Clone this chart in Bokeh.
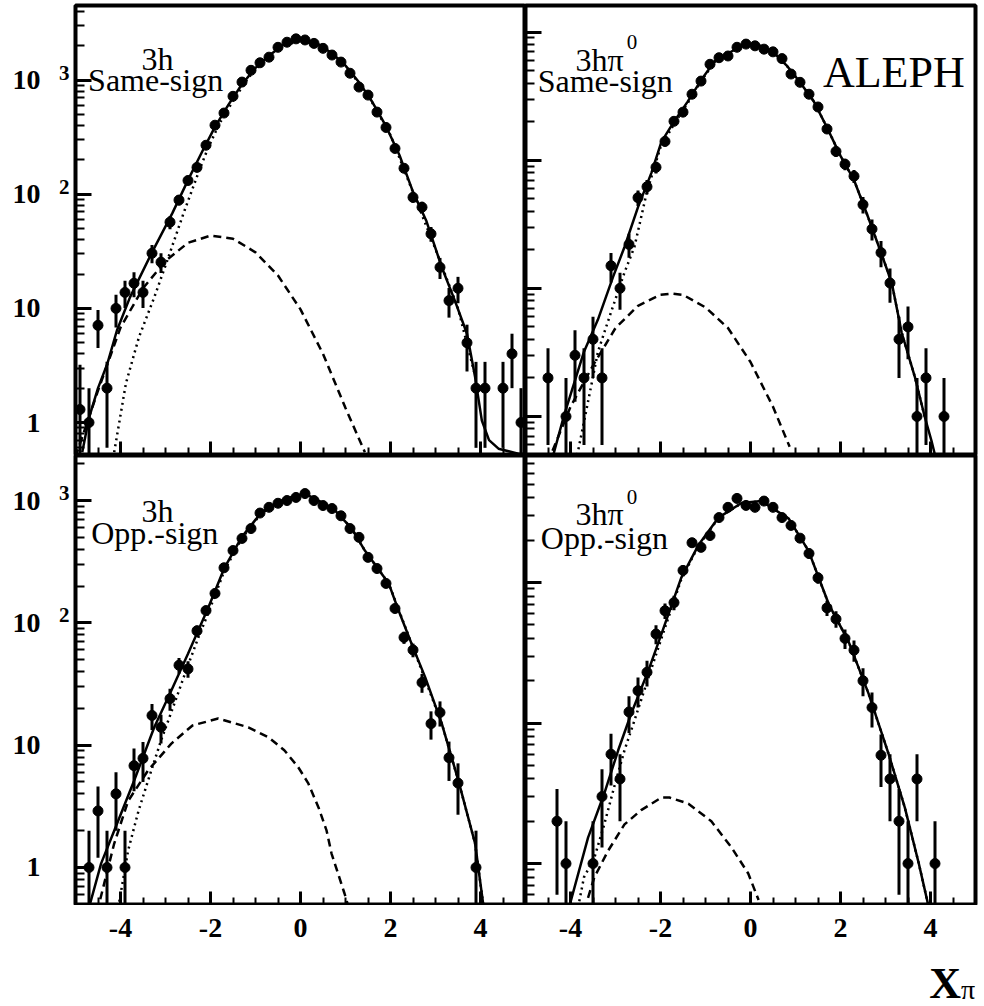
from bokeh.plotting import figure
from bokeh.layouts import column, row
from bokeh.models import FixedTicker, Label, Range1d, LogAxis
from bokeh.embed import file_html
from bokeh.resources import INLINE

# ---------------- data ----------------
bin_centers = [-4.9, -4.7, -4.5, -4.3, -4.1, -3.9, -3.7, -3.5, -3.3, -3.1,
               -2.9, -2.7, -2.5, -2.3, -2.1, -1.9, -1.7, -1.5, -1.3, -1.1,
               -0.9, -0.7, -0.5, -0.3, -0.1, 0.1, 0.3, 0.5, 0.7, 0.9,
               1.1, 1.3, 1.5, 1.7, 1.9, 2.1, 2.3, 2.5, 2.7, 2.9,
               3.1, 3.3, 3.5, 3.7, 3.9, 4.1, 4.3, 4.5, 4.7, 4.9]

# 3h, same-sign
ss3h_counts = [1.3, 1.0, 7.1, 2.0, 10.0, 13.8, 16.6, 13.8, 30.4, 25.4,
               57, 89, 132, 172, 269, 403, 515, 722, 962, 1220,
               1420, 1590, 1940, 2150, 2300, 2250, 2100, 1900, 1660, 1440,
               1150, 870, 740, 525, 385, 252, 169, 94, 77, 45,
               22.9, 11.7, 15, 5.0, 2.0, 2.0, 0, 2.0, 4.0, 1.0]
ss3h_errors = [1.9, 1.0, 2.6, 1.4, 3.2, 3.7, 4.1, 3.7, 5.5, 5.0,
               7.5, 9.4, 11, 13, 16, 20, 23, 27, 31, 35,
               38, 40, 44, 46, 48, 47, 46, 44, 41, 38,
               34, 30, 27, 23, 20, 16, 13, 9.7, 8.8, 6.7,
               4.8, 3.4, 3.9, 2.2, 1.4, 1.4, 0, 1.4, 2.0, 1.0]
ss3h_total_x = [-4.85, -4.7, -4.5, -4.29, -4.08, -3.79, -3.3, -2.85, -2.5, -2.17, -1.9, -1.6, -1.3,
                -1.0, -0.7, -0.4, -0.1, 0.1, 0.4, 0.7, 1.0, 1.3, 1.6, 1.9, 2.2, 2.5, 2.8, 3.14,
                3.43, 3.7, 3.88, 4.03, 4.19, 4.4, 4.86, 5.0]
ss3h_total_y = [0.55, 1.1, 2.0, 3.3, 6.4, 12.5, 31, 68, 133, 243, 390, 610, 920,
                1280, 1640, 2020, 2260, 2270, 2060, 1720, 1340, 960, 640, 395, 220, 105, 58, 22.9,
                11.7, 6.0, 2.5, 1.04, 0.7, 0.59, 0.53, 0.53]
ss3h_bkg_x = [-5.0, -4.5, -4.0, -3.5, -3.0, -2.5, -2.0, -1.5, -1.0, -0.5, 0.0, 0.5, 1.0, 1.43]
ss3h_bkg_y = [0.5, 1.9, 6.8, 15, 26, 37.6, 43.4, 40.8, 31, 19.4, 9.8, 4.0, 1.34, 0.55]
ss3h_sig_x = [-4.14, -3.88, -3.59, -3.25, -2.98, -2.6, -2.25, -2.05, -1.8, -1.5, -1.2, -1.0,
              -0.5, 0.0, 0.5, 1.0, 1.5, 2.0, 2.5, 3.0, 3.5, 3.9]
ss3h_sig_y = [0.55, 2.2, 5.6, 12.5, 25, 68, 162, 257, 417, 659, 994, 1249,
              1881, 2260, 1946, 1335, 740, 330, 104, 33, 10, 2.4]

# 3h pi0, same-sign
ss3hpi_counts = [0, 0, 2.0, 0, 1.0, 3.0, 2.0, 4.0, 2.0, 15,
                 10, 22, 51, 62, 88, 140, 201, 237, 327, 414,
                 560, 630, 650, 760, 805, 780, 735, 700, 620, 470,
                 405, 327, 260, 175, 117, 93, 75, 45, 29, 19,
                 11, 4.0, 5.0, 1.0, 2.0, 0, 1.0, 0, 0, 0]
ss3hpi_errors = [0, 0, 1.4, 0, 1.0, 1.7, 1.4, 2.0, 1.4, 3.9,
                 3.2, 4.7, 7.1, 7.9, 9.4, 12, 14, 15, 18, 20,
                 24, 25, 25, 28, 28, 28, 27, 26, 25, 22,
                 20, 18, 16, 13, 11, 9.6, 8.7, 6.7, 5.4, 4.4,
                 3.3, 2.0, 2.2, 1.0, 1.4, 0, 1.0, 0, 0, 0]
ss3hpi_total_x = [-4.39, -4.15, -3.7, -3.39, -3.05, -2.8, -2.5, -2.2, -1.98, -1.7, -1.4, -1.1,
                  -0.8, -0.5, -0.2, 0.0, 0.2, 0.5, 0.8, 1.1, 1.4, 1.7, 2.0, 2.3, 2.6, 2.9,
                  3.14, 3.36, 3.65, 3.87, 4.03, 4.1]
ss3hpi_total_y = [0.49, 1.0, 3.2, 5.7, 12.4, 21, 43, 80, 139, 200, 285, 420,
                  590, 680, 780, 795, 785, 700, 550, 405, 290, 180, 108, 70, 37, 19,
                  11, 4.5, 2.05, 1.0, 0.63, 0.5]
ss3hpi_bkg_x = [-4.4, -4.0, -3.5, -3.0, -2.5, -2.0, -1.75, -1.5, -1.0, -0.5, 0.0, 0.5, 0.87]
ss3hpi_bkg_y = [0.54, 1.19, 2.5, 4.9, 7.3, 8.9, 9.1, 8.9, 7.1, 4.9, 2.66, 1.19, 0.58]
ss3hpi_sig_x = [-3.85, -3.6, -3.39, -3.1, -2.8, -2.58, -2.3, -2.0, -1.7, -1.4, -1.1, -0.8,
                -0.5, -0.2, 0.2, 0.5, 0.8, 1.1, 1.4, 1.7, 2.0, 2.3, 2.6, 2.9, 3.14, 3.36,
                3.65, 3.87]
ss3hpi_sig_y = [0.5, 1.36, 3.2, 6.5, 13.3, 21, 57, 126, 191, 277, 413, 584,
                675, 767, 780, 697, 549, 405, 290, 180, 108, 70, 37, 19, 11, 4.5,
                2.05, 1.0]

# 3h, opposite-sign
os3h_counts = [0, 1.0, 2.9, 1.0, 4.0, 1.0, 6.8, 7.8, 17.5, 14,
               24, 45, 42, 86, 126, 174, 282, 390, 490, 590,
               790, 880, 950, 1000, 1060, 1140, 1000, 910, 860, 750,
               590, 500, 343, 278, 210, 131, 76, 60, 32.5, 15,
               18.5, 7.9, 4.9, 0, 1.0, 0, 0, 0, 0, 0]
os3h_errors = [0, 1.0, 1.7, 1.0, 2.0, 1.0, 2.6, 2.8, 4.2, 3.7,
               4.9, 6.7, 6.5, 9.3, 11, 13, 17, 20, 22, 24,
               28, 30, 31, 32, 33, 34, 32, 30, 29, 27,
               24, 22, 19, 17, 14, 11, 8.7, 7.7, 5.7, 3.9,
               4.3, 2.8, 2.2, 0, 1.0, 0, 0, 0, 0, 0]
os3h_total_x = [-4.7, -4.43, -4.14, -3.7, -3.25, -2.87, -2.5, -2.05, -1.69, -1.31, -0.87, -0.35,
                0.1, 0.73, 1.14, 1.43, 1.96, 2.18, 2.5, 2.77, 3.14, 3.51, 3.88, 4.07]
os3h_total_y = [0.47, 1.08, 2.0, 5.1, 14, 28, 56, 133, 282, 500, 800, 1030,
                1140, 860, 590, 390, 210, 126, 63, 36, 15, 5.1, 1.57, 0.47]
os3h_bkg_x = [-4.45, -4.14, -3.83, -3.39, -2.87, -2.4, -1.83, -1.16, -0.71, -0.36, -0.05, 0.17,
              0.4, 0.58, 0.69, 0.98, 1.05]
os3h_bkg_y = [0.55, 1.57, 3.5, 6.2, 10.3, 14.5, 16.5, 14, 11.6, 9.1, 6.6, 4.9,
              3.1, 2.0, 1.3, 0.61, 0.5]
os3h_sig_x = [-4.05, -3.83, -3.6, -3.39, -3.1, -2.8, -2.54, -2.27, -2.05, -1.69, -1.31, -0.87,
              -0.35, 0.1, 0.73, 1.14, 1.43, 1.96, 2.5, 3.14, 3.51, 3.88, 4.07]
os3h_sig_y = [0.47, 1.38, 2.9, 5.1, 10.9, 22, 41, 76, 120, 268, 486, 789,
              1021, 1136, 860, 590, 390, 210, 63, 15, 5.1, 1.57, 0.47]

# 3h pi0, opposite-sign
os3hpi_counts = [0, 0, 0, 2.0, 1.0, 0, 0, 1.0, 3.0, 6.0,
                 4.0, 12, 17, 23, 43, 63, 72, 122, 192, 178,
                 216, 290, 343, 397, 354, 343, 380, 343, 290, 255,
                 207, 161, 108, 66, 55, 40, 33, 20, 12.9, 5.9,
                 4.0, 2.0, 1.0, 4.0, 0, 1.0, 0, 0, 0, 0]
os3hpi_errors = [0, 0, 0, 1.4, 1.0, 0, 0, 1.0, 1.7, 2.4,
                 2.0, 3.5, 4.1, 4.8, 6.6, 7.9, 8.5, 11, 14, 13,
                 15, 17, 19, 20, 19, 19, 19, 19, 17, 16,
                 14, 13, 10, 8.1, 7.4, 6.3, 5.7, 4.5, 3.6, 2.4,
                 2.0, 1.4, 1.0, 2.0, 0, 1.0, 0, 0, 0, 0]
os3hpi_total_x = [-4.03, -3.61, -3.25, -2.94, -2.65, -2.27, -1.98, -1.54, -1.16, -0.71, -0.2,
                  0.24, 0.85, 1.29, 1.74, 2.18, 2.63, 3.07, 3.43, 3.74, 3.96]
os3hpi_total_y = [0.49, 1.53, 3.15, 6.4, 11.7, 23.6, 43, 108, 184, 290, 368,
                  380, 285, 168, 70, 38, 16, 6.0, 2.5, 1.0, 0.49]
os3hpi_bkg_x = [-3.61, -3.47, -3.16, -2.8, -2.43, -1.98, -1.8, -1.38, -0.87, -0.42, -0.05, 0.18]
os3hpi_bkg_y = [0.57, 0.8, 1.24, 1.9, 2.4, 2.95, 2.95, 2.67, 2.0, 1.3, 0.85, 0.55]
os3hpi_sig_x = [-3.83, -3.7, -3.47, -3.25, -3.03, -2.8, -2.58, -2.27, -1.98, -1.54, -1.16, -0.71,
                -0.2, 0.24, 0.85, 1.29, 1.74, 2.18, 2.63, 3.07, 3.43, 3.74, 3.96]
os3hpi_sig_y = [0.49, 0.8, 1.1, 1.9, 3.5, 6.4, 10.4, 21, 40, 105, 182, 288,
                367, 380, 285, 168, 70, 38, 16, 6.0, 2.5, 1.0, 0.49]

x_major_ticks = [-4, -2, 0, 2, 4]
x_minor_ticks = [-4.5, -3.5, -3, -2.5, -1.5, -1, -0.5, 0.5, 1, 1.5, 2.5, 3, 3.5, 4.5]
y_major_ticks = [1, 10, 100, 1000]
y_minor_ticks = [0.6, 0.7, 0.8, 0.9, 2, 3, 4, 5, 6, 7, 8, 9, 20, 30, 40, 50, 60, 70, 80, 90,
                 200, 300, 400, 500, 600, 700, 800, 900, 2000, 3000, 4000]
y_tick_text = {1: "1", 10: "10", 100: "10", 1000: "10"}
# exponents of the "10" labels, placed a little above their ticks
y_exp_ticks = [116, 1160]
y_exp_text = {116: "2", 1160: "3"}
x_tick_text = {-4: "-4", -2: "-2", 0: "0", 2: "2", 4: "4"}

SERIF = "Liberation Serif"
STRIP_H = 101   # height (px) of the strip under the lower panels


def style_axis(ax, lmaj, lmin, show_labels, standoff, overrides, size="28px"):
    ax.axis_line_color = None
    ax.major_tick_in = lmaj
    ax.major_tick_out = 0
    ax.minor_tick_in = lmin
    ax.minor_tick_out = 0
    ax.major_tick_line_width = 3
    ax.minor_tick_line_width = 2
    ax.major_tick_line_color = "black" if lmaj else None
    ax.minor_tick_line_color = "black" if lmin else None
    ax.major_label_text_font = SERIF
    ax.major_label_text_font_style = "bold"
    ax.major_label_text_font_size = size
    ax.major_label_standoff = standoff
    if show_labels:
        ax.major_label_text_color = "black"
        ax.major_label_overrides = overrides
    else:
        ax.major_label_text_color = None


def panel(counts, errors, tot_x, tot_y, bkg_x, bkg_y, sig_x, sig_y,
          y_lo, y_hi, left, top):
    p = figure(x_range=Range1d(-5, 5), y_range=Range1d(y_lo, y_hi), y_axis_type="log",
               frame_width=450, frame_height=450,
               min_border_left=75 if left else 0, min_border_right=0 if left else 9,
               min_border_top=5 if top else 0, min_border_bottom=0,
               output_backend="svg", toolbar_location=None)
    p.grid.visible = False
    p.outline_line_color = "black"
    p.outline_line_width = 4
    p.background_fill_color = "white"
    p.border_fill_color = "white"

    p.xaxis.ticker = FixedTicker(ticks=x_major_ticks, minor_ticks=x_minor_ticks)
    p.yaxis.ticker = FixedTicker(ticks=y_major_ticks, minor_ticks=y_minor_ticks)
    style_axis(p.xaxis[0], 14, 8, False, 0, None)
    style_axis(p.yaxis[0], 16, 9, False, 0, None)
    p.xaxis[0].fixed_location = y_lo
    p.yaxis[0].fixed_location = -5

    if left:
        exp_axis = LogAxis(ticker=FixedTicker(ticks=y_exp_ticks))
        style_axis(exp_axis, 0, 0, True, 6, y_exp_text, size="21px")
        p.add_layout(exp_axis, "left")
        num_axis = LogAxis(ticker=FixedTicker(ticks=y_major_ticks))
        style_axis(num_axis, 0, 0, True, 15, y_tick_text)
        p.add_layout(num_axis, "left")

    # curves
    p.line(bkg_x, bkg_y, line_color="black", line_width=2.5, line_dash="8 5")
    p.line(sig_x, sig_y, line_color="black", line_width=2.5, line_dash="2 4")
    p.line(tot_x, tot_y, line_color="black", line_width=2.5)

    # data points with error bars
    xs, ys, lo, hi = [], [], [], []
    for xc, v, e in zip(bin_centers, counts, errors):
        if v > 0:
            xs.append(xc)
            ys.append(v)
            lo.append(max(v - e, y_lo * 0.5))
            hi.append(v + e)
    p.segment(x0=xs, y0=lo, x1=xs, y1=hi, line_color="black", line_width=3)
    p.scatter(xs, ys, size=10, marker="circle", fill_color="black", line_color="black")
    return p


def tick_strip(left):
    # strip under a lower panel: same x scale, carries the x tick labels
    s = figure(x_range=Range1d(-5, 5), y_range=Range1d(0, STRIP_H),
               frame_width=450, frame_height=STRIP_H, y_axis_location=None,
               min_border_left=75 if left else 0, min_border_right=0 if left else 9,
               min_border_top=0, min_border_bottom=0,
               output_backend="svg", toolbar_location=None)
    s.grid.visible = False
    s.outline_line_color = None
    s.xaxis.ticker = FixedTicker(ticks=x_major_ticks)
    style_axis(s.xaxis[0], 0, 0, True, 13, x_tick_text)
    s.xaxis[0].fixed_location = STRIP_H
    return s


TL_LO, TL_HI = 0.514, 4510
TR_LO, TR_HI = 0.496, 1610
BL_LO, BL_HI = 0.489, 2334
BR_LO, BR_HI = 0.503, 802

p1 = panel(ss3h_counts, ss3h_errors, ss3h_total_x, ss3h_total_y, ss3h_bkg_x, ss3h_bkg_y,
           ss3h_sig_x, ss3h_sig_y, TL_LO, TL_HI, True, True)
p2 = panel(ss3hpi_counts, ss3hpi_errors, ss3hpi_total_x, ss3hpi_total_y, ss3hpi_bkg_x,
           ss3hpi_bkg_y, ss3hpi_sig_x, ss3hpi_sig_y, TR_LO, TR_HI, False, True)
p3 = panel(os3h_counts, os3h_errors, os3h_total_x, os3h_total_y, os3h_bkg_x, os3h_bkg_y,
           os3h_sig_x, os3h_sig_y, BL_LO, BL_HI, True, False)
p4 = panel(os3hpi_counts, os3hpi_errors, os3hpi_total_x, os3hpi_total_y, os3hpi_bkg_x,
           os3hpi_bkg_y, os3hpi_sig_x, os3hpi_sig_y, BR_LO, BR_HI, False, False)
s3 = tick_strip(True)
s4 = tick_strip(False)


def txt(p, x, y, s, size, align="left", bold=False, yo=0):
    p.add_layout(Label(x=x, y=y, text=s, text_font=SERIF, text_font_size=size,
                       text_font_style="bold" if bold else "normal", text_color="black",
                       text_align=align, text_baseline="alphabetic", y_offset=yo))


# panel labels
txt(p1, -3.18, 1528, "3h", "32px", align="center")
txt(p1, -4.72, 1000, "Same-sign", "32px")
txt(p2, -3.89, 604, "3h\u03c0", "32px")
txt(p2, -2.75, 835, "0", "21px")
txt(p2, -4.73, 414, "Same-sign", "32px")
txt(p2, 1.61, 487, "ALEPH", "44px")
txt(p3, -3.18, 815, "3h", "32px", align="center")
txt(p3, -4.65, 538, "Opp.-sign", "32px")
txt(p4, -3.89, 310, "3h\u03c0", "32px")
txt(p4, -2.75, 403, "0", "21px")
txt(p4, -4.66, 206, "Opp.-sign", "32px")

# x-axis title, hung a fixed number of pixels below the top of the strip
txt(s4, 3.97, STRIP_H, "X", "44px", bold=True, yo=-78)
txt(s4, 4.68, STRIP_H, "\u03c0", "28px", yo=-84)

layout = column(row(p1, p2), row(p3, p4), row(s3, s4))

with open("out.html", "w") as f:
    f.write(file_html(layout, INLINE))
